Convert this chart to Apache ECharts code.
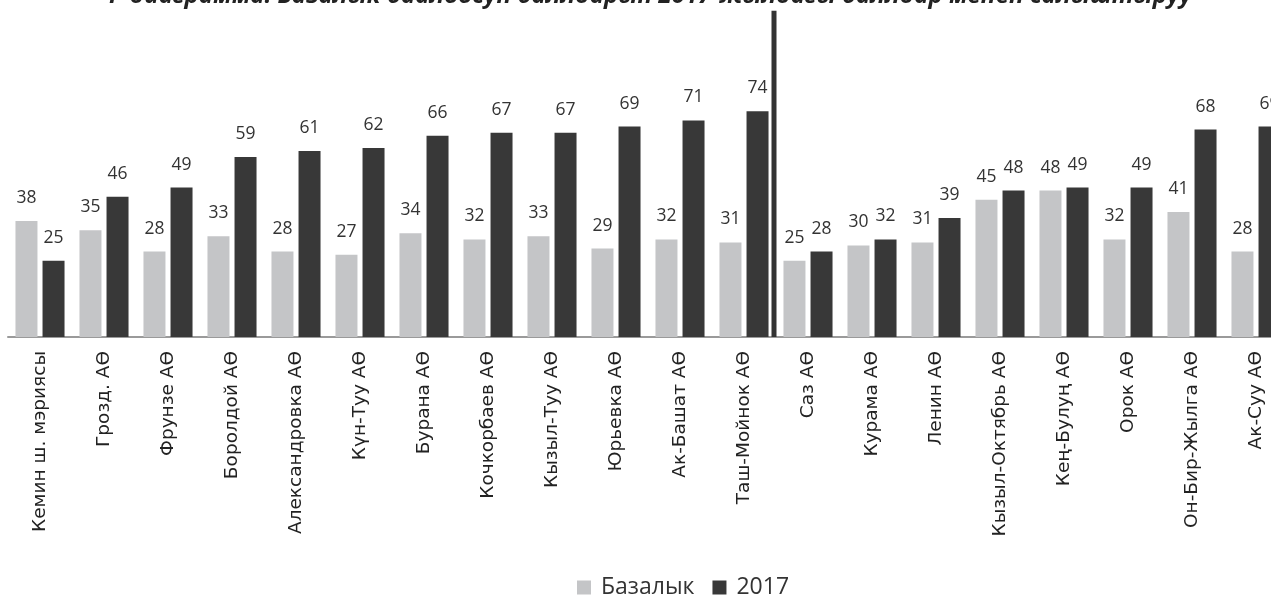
<!DOCTYPE html>
<html>
<head>
<meta charset="utf-8">
<script src="https://cdn.jsdelivr.net/npm/echarts@6/dist/echarts.min.js"></script>
<style>html,body{margin:0;padding:0;background:#fff;}#c{width:1271px;height:597px;}</style>
</head>
<body>
<div id="c"></div>
<script>
const titleText = 'Р диаграмма: Базалык баалоосун баллдарын 2017-жылдагы баллдар менен салыштыруу';
const categories = ['Кемин ш. мэриясы','Грозд. АӨ','Фрунзе АӨ','Боролдой АӨ','Александровка АӨ','Күн-Туу АӨ','Бурана АӨ','Кочкорбаев АӨ','Кызыл-Туу АӨ','Юрьевка АӨ','Ак-Башат АӨ','Таш-Мойнок АӨ','Саз АӨ','Курама АӨ','Ленин АӨ','Кызыл-Октябрь АӨ','Кең-Булуң АӨ','Орок АӨ','Он-Бир-Жылга АӨ','Ак-Суу АӨ'];
const seriesNames = ['Базалык','2017'];
const baseline = [38,35,28,33,28,27,34,32,33,29,32,31,25,30,31,45,48,32,41,28];
const y2017 = [25,46,49,59,61,62,66,67,67,69,71,74,28,32,39,48,49,49,68,69];
const separatorAfter = 'Таш-Мойнок АӨ';
const separatorTopValue = 107;

const chart = echarts.init(document.getElementById('c'));
const labelStyle = {show:true, position:'top', distance:14, fontSize:17.5, fontFamily:'Open Sans', color:'#333'};
chart.setOption({
  animation:false,
  backgroundColor:'#fff',
  title:{text:titleText, left:104, top:-21, textStyle:{fontSize:24, fontWeight:'bold', fontStyle:'italic', fontFamily:'Open Sans', color:'#222'}},
  legend:{data:seriesNames, left:572, top:571, icon:'rect', itemWidth:14, itemHeight:14, itemGap:18,
    textStyle:{fontSize:23, fontFamily:'Open Sans', color:'#333', padding:[0,0,0,5]}},
  grid:{left:8, width:1280, top:32, bottom:260, containLabel:false, outerBoundsMode:'none'},
  xAxis:{type:'category', data:categories, axisTick:{show:false},
    axisLine:{lineStyle:{color:'#9a9a9a', width:2}},
    axisLabel:{rotate:90, interval:0, margin:14, fontSize:18.5, fontFamily:'DejaVu Sans', color:'#222'}},
  yAxis:{type:'value', min:0, max:100, show:false, splitLine:{show:false}},
  series:[
    {name:seriesNames[0], type:'bar', data:baseline, barWidth:22, barGap:'23%', itemStyle:{color:'#c4c5c7'}, label:labelStyle},
    {name:seriesNames[1], type:'bar', data:y2017, barWidth:22, barGap:'23%', itemStyle:{color:'#383838'}, label:labelStyle}
  ]
});
const idx = categories.indexOf(separatorAfter);
const x0 = chart.convertToPixel({xAxisIndex:0}, categories[idx]);
const x1 = chart.convertToPixel({xAxisIndex:0}, categories[idx+1]);
const sx = (x0 + x1) / 2 - 2;
const yBottom = chart.convertToPixel({yAxisIndex:0}, 0);
const yTop = chart.convertToPixel({yAxisIndex:0}, separatorTopValue);
chart.setOption({graphic:[{type:'line', shape:{x1:sx, y1:yTop, x2:sx, y2:yBottom}, style:{stroke:'#333', lineWidth:5}, z:10}]});
</script>
</body>
</html>
